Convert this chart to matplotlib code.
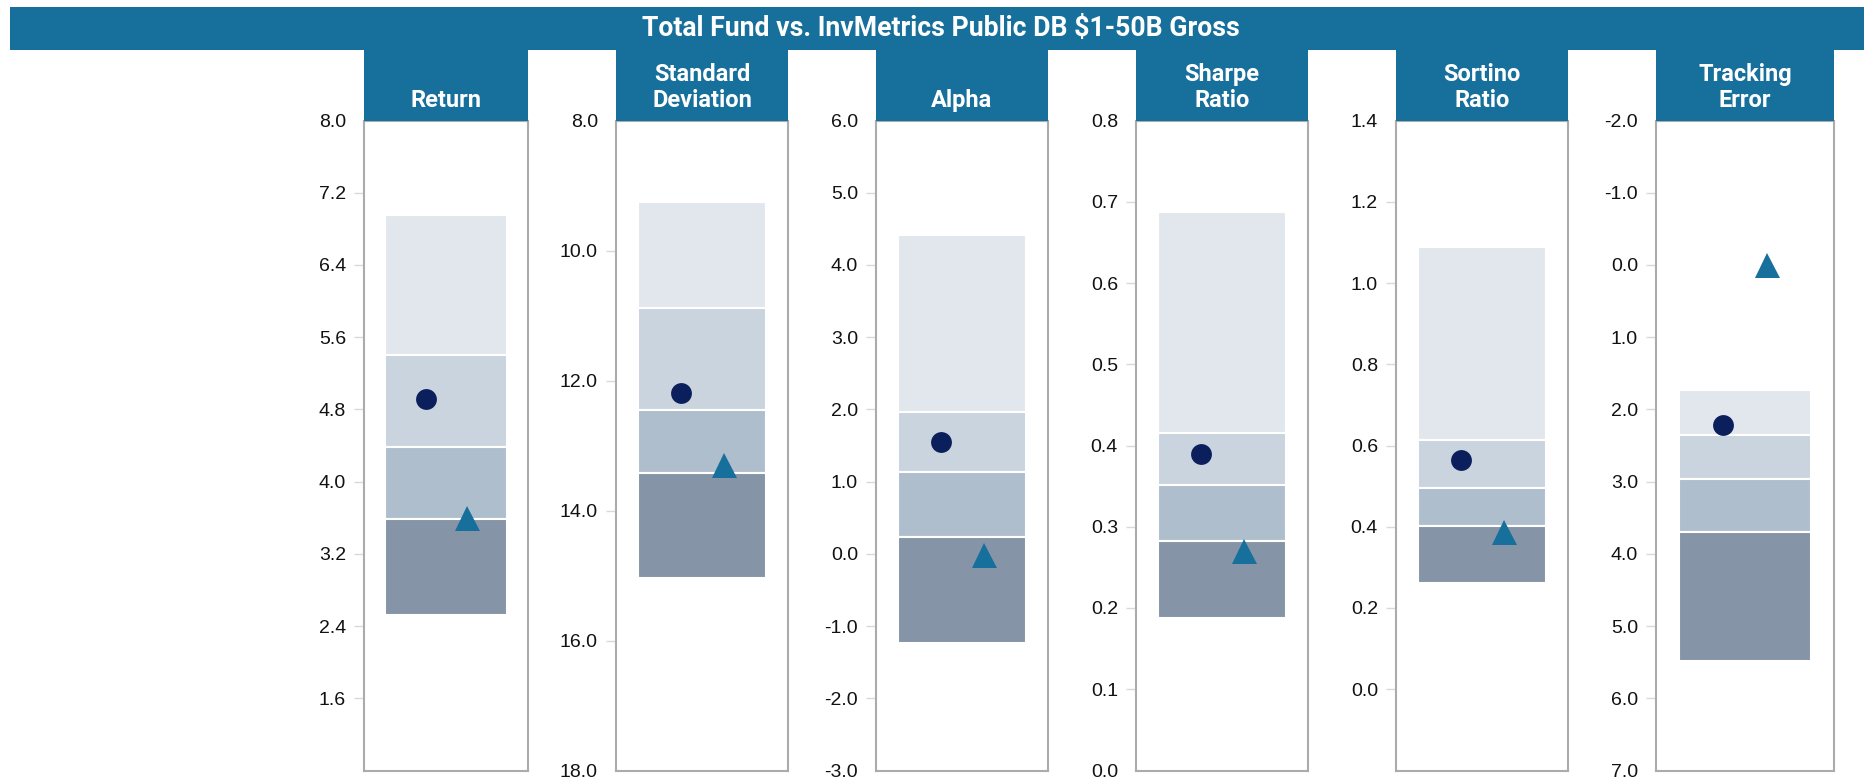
import numpy as np
import matplotlib.pyplot as plt
from matplotlib.patches import Rectangle

# peer universe bands (top edge, 25th, median, 75th, bottom edge) and markers
metrics = ["Return", "Standard\nDeviation", "Alpha", "Sharpe\nRatio", "Sortino\nRatio", "Tracking\nError"]
band_top = [6.95, 9.25, 4.41, 0.688, 1.089, 1.73]
band_q1 = [5.40, 10.89, 1.97, 0.416, 0.613, 2.35]
band_median = [4.38, 12.46, 1.14, 0.352, 0.496, 2.96]
band_q3 = [3.59, 13.42, 0.23, 0.283, 0.402, 3.70]
band_bottom = [2.52, 15.04, -1.23, 0.188, 0.262, 5.49]
total_fund = [4.91, 12.19, 1.55, 0.389, 0.564, 2.21]
policy_index = [3.60, 13.30, -0.02, 0.270, 0.388, 0.00]

# axis ranges (value at top of panel, value at bottom) and labelled ticks
y_top = [8.0, 8.0, 6.0, 0.8, 1.4, -2.0]
y_bottom = [0.8, 18.0, -3.0, 0.0, -0.2, 7.0]
tick_first = [1.6, 8.0, -3.0, 0.0, 0.0, -2.0]
tick_last = [8.0, 18.0, 6.0, 0.8, 1.4, 7.0]
tick_step = [0.8, 2.0, 1.0, 0.1, 0.2, 1.0]

title = "Total Fund vs. InvMetrics Public DB $1-50B Gross"

BLUE = "#176f9c"
NAVY = "#0a1f5c"
band_colors = ["#e2e7ee", "#cad4de", "#afbecd", "#8595a7"]

W, H = 1864, 777
fig = plt.figure(figsize=(W / 100, H / 100), dpi=100)
plt.rcParams["font.family"] = ["Roboto", "DejaVu Sans"]

# panel layout in pixels
left_px = [364, 616, 876, 1136, 1396, 1656]
width_px = [164, 172, 172, 172, 172, 178]
box_top, box_bot = 120.5, 770.5
head_top = 50


def fx(px):
    return px / W


def fy(py):
    return 1 - py / H


# title banner
fig.add_artist(Rectangle((fx(10), fy(head_top)), 1 - fx(10), (head_top - 6.7) / H,
                         transform=fig.transFigure, color=BLUE, lw=0))
fig.text(fx(941), fy(28.5), title, color="white", fontsize=19.2, fontweight="bold",
         ha="center", va="center")

for i, name in enumerate(metrics):
    ax = fig.add_axes([fx(left_px[i]), fy(box_bot), width_px[i] / W, (box_bot - box_top) / H])
    ax.set_xlim(0, 1)
    ax.set_ylim(y_bottom[i], y_top[i])

    edges = [band_top[i], band_q1[i], band_median[i], band_q3[i], band_bottom[i]]
    for j in range(4):
        ax.bar(0.5, edges[j + 1] - edges[j], bottom=edges[j], width=0.74,
               color=band_colors[j], edgecolor="white", linewidth=1.5, zorder=2)

    ax.plot(0.375, total_fund[i], "o", ms=15, color=NAVY, mew=0, zorder=3)
    ax.plot(0.625, policy_index[i], "^", ms=18, color=BLUE, mew=0, zorder=3)

    ticks = np.round(np.arange(tick_first[i], tick_last[i] + tick_step[i] / 2, tick_step[i]), 2)
    ax.set_yticks(ticks)
    ax.set_yticklabels([f"{t:.1f}" for t in ticks], fontsize=14,
                       family=["Liberation Sans", "DejaVu Sans"], color="#111111")
    ax.tick_params(axis="y", length=7, width=1, color="#d9d9d9", pad=6)
    ax.set_xticks([])
    for t, tick in zip(ticks, ax.yaxis.get_major_ticks()):
        if np.isclose(t, y_top[i]) or np.isclose(t, y_bottom[i]):
            tick.tick1line.set_visible(False)
    for s in ax.spines.values():
        s.set_color("#ababab")
        s.set_linewidth(1.5)

    # column header
    fig.add_artist(Rectangle((fx(left_px[i]), fy(box_top)), width_px[i] / W, (box_top - head_top) / H,
                             transform=fig.transFigure, color=BLUE, lw=0))
    fig.text(fx(left_px[i] + width_px[i] / 2), fy(112), name, color="white", fontsize=17,
             fontweight="bold", ha="center", va="bottom", linespacing=1.15)

fig.savefig("out.png", dpi=100)
